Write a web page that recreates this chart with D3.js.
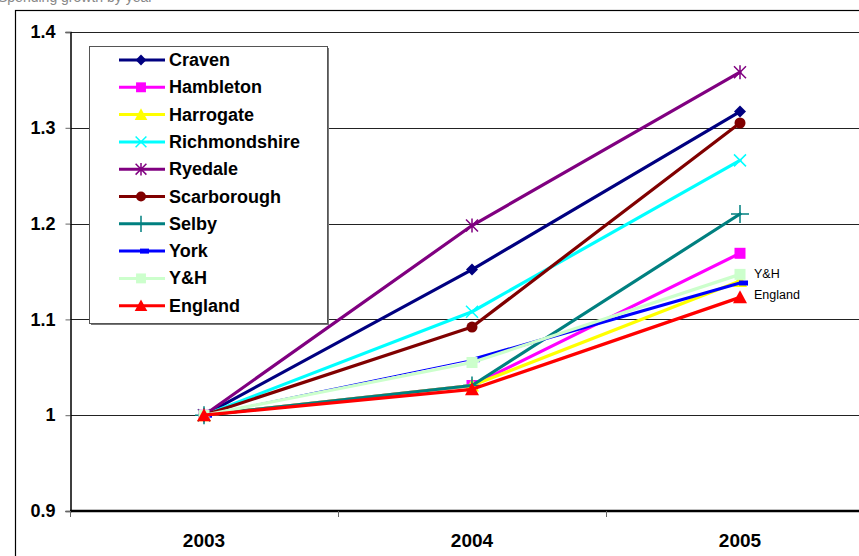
<!DOCTYPE html>
<html>
<head>
<meta charset="utf-8">
<script src="https://cdn.jsdelivr.net/npm/d3@7"></script>
<style>
  body { margin: 0; background: #fff; }
  svg { display: block; font-family: "Liberation Sans", Arial, sans-serif; }
</style>
</head>
<body>
<div id="chart"></div>
<script>
// chart data
const years = ["2003", "2004", "2005"];
const seriesNames = ["Craven", "Hambleton", "Harrogate", "Richmondshire", "Ryedale",
                     "Scarborough", "Selby", "York", "Y&H", "England"];
const craven        = [1, 1.152, 1.317];
const hambleton     = [1, 1.031, 1.169];
const harrogate     = [1, 1.031, 1.140];
const richmondshire = [1, 1.108, 1.266];
const ryedale       = [1, 1.198, 1.358];
const scarborough   = [1, 1.092, 1.305];
const selby         = [1, 1.031, 1.210];
const york          = [1, 1.058, 1.138];
const yh            = [1, 1.055, 1.147];
const england       = [1, 1.027, 1.123];
const yTicks = [0.9, 1, 1.1, 1.2, 1.3, 1.4];
const endLabels = ["Y&H", "England"];

const seriesValues = [craven, hambleton, harrogate, richmondshire, ryedale,
                      scarborough, selby, york, yh, england];
const colors = ["#000080", "#ff00ff", "#ffff00", "#00ffff", "#800080",
                "#800000", "#008080", "#0000ff", "#ccffcc", "#ff0000"];
const markers = ["diamond", "square", "triangle", "x", "star",
                 "circle", "plus", "dash", "square", "triangle"];

const width = 859, height = 556;
const svg = d3.select("#chart").append("svg")
    .attr("width", width)
    .attr("height", height);

// faint title remnant, cut off at the top as in the source image
svg.append("text")
    .attr("x", -2).attr("y", 2)
    .attr("font-size", 14)
    .attr("fill", "#888")
    .text("Spending growth by year");

// outer chart frame
svg.append("rect")
    .attr("x", 15.5).attr("y", 10.5)
    .attr("width", 1000).attr("height", 700)
    .attr("fill", "none")
    .attr("stroke", "#000")
    .attr("stroke-width", 1.2);

const x = d3.scaleBand().domain(years).range([70, 874]);
const y = d3.scaleLinear().domain([0.9, 1.4]).range([511, 32]);
const cx = d => x(d) + x.bandwidth() / 2;

// gridlines
svg.append("g")
    .selectAll("line")
    .data(yTicks.filter(t => t > 0.9))
    .join("line")
    .attr("x1", 70).attr("x2", width)
    .attr("y1", d => Math.round(y(d)) + 0.5)
    .attr("y2", d => Math.round(y(d)) + 0.5)
    .attr("stroke", "#222")
    .attr("stroke-width", 1);

// y axis
const yAxis = svg.append("g")
    .attr("transform", "translate(70.5,0)")
    .call(d3.axisLeft(y).tickValues(yTicks).tickSize(5).tickPadding(10)
        .tickFormat(d => d3.format("")(+d.toFixed(1))));
yAxis.select(".domain").attr("stroke", "#000").attr("stroke-width", 1.5);
yAxis.selectAll(".tick line").attr("stroke", "#666");
yAxis.selectAll("text")
    .attr("font-size", 18).attr("font-weight", "bold")
    .attr("font-family", "Liberation Sans, Arial, sans-serif")
    .attr("fill", "#000");

// x axis (bottom line, ticks at category boundaries)
svg.append("line")
    .attr("x1", 70).attr("x2", width)
    .attr("y1", 511).attr("y2", 511)
    .attr("stroke", "#000").attr("stroke-width", 2.5);
svg.append("g")
    .selectAll("line")
    .data(years)
    .join("line")
    .attr("x1", d => x(d) + 0.5).attr("x2", d => x(d) + 0.5)
    .attr("y1", 511).attr("y2", 517)
    .attr("stroke", "#666");
svg.append("g")
    .selectAll("text")
    .data(years)
    .join("text")
    .attr("x", d => cx(d))
    .attr("y", 547)
    .attr("text-anchor", "middle")
    .attr("font-size", 19).attr("font-weight", "bold")
    .text(d => d);

// marker drawing
function drawMarker(g, type, color, px, py, s) {
    s = s || 1;
    if (type === "diamond") {
        g.append("path").attr("d", `M${px},${py - 6 * s}L${px + 6 * s},${py}L${px},${py + 6 * s}L${px - 6 * s},${py}Z`)
            .attr("fill", color);
    } else if (type === "square") {
        g.append("rect").attr("x", px - 5.5 * s).attr("y", py - 5.5 * s)
            .attr("width", 11 * s).attr("height", 11 * s).attr("fill", color);
    } else if (type === "triangle") {
        g.append("path").attr("d", `M${px},${py - 7 * s}L${px + 7 * s},${py + 6 * s}L${px - 7 * s},${py + 6 * s}Z`)
            .attr("fill", color);
    } else if (type === "x") {
        g.append("path").attr("d", `M${px - 6 * s},${py - 6 * s}L${px + 6 * s},${py + 6 * s}M${px + 6 * s},${py - 6 * s}L${px - 6 * s},${py + 6 * s}`)
            .attr("stroke", color).attr("stroke-width", 1.5);
    } else if (type === "star") {
        g.append("path").attr("d", `M${px - 6 * s},${py - 6 * s}L${px + 6 * s},${py + 6 * s}M${px + 6 * s},${py - 6 * s}L${px - 6 * s},${py + 6 * s}M${px},${py - 7 * s}L${px},${py + 7 * s}`)
            .attr("stroke", color).attr("stroke-width", 1.5);
    } else if (type === "circle") {
        g.append("circle").attr("cx", px).attr("cy", py).attr("r", 5.5 * s).attr("fill", color);
    } else if (type === "plus") {
        g.append("path").attr("d", `M${px - 9 * s},${py}L${px + 9 * s},${py}M${px},${py - 9 * s}L${px},${py + 9 * s}`)
            .attr("stroke", color).attr("stroke-width", 1.5);
    } else if (type === "dash") {
        g.append("rect").attr("x", px - 1).attr("y", py - 2.5)
            .attr("width", 9).attr("height", 5).attr("fill", color);
    }
}

// lines and markers
const linesG = svg.append("g");
seriesNames.forEach((name, i) => {
    const vals = seriesValues[i];
    const g = linesG.append("g");
    for (let k = 0; k < years.length - 1; k++) {
        // York's first segment is drawn thin in the original
        const thin = name === "York" && k === 0;
        g.append("line")
            .attr("x1", cx(years[k])).attr("y1", y(vals[k]))
            .attr("x2", cx(years[k + 1])).attr("y2", y(vals[k + 1]))
            .attr("stroke", colors[i])
            .attr("stroke-width", thin ? 1 : 3.2)
            .attr("stroke-linecap", "round");
    }
    vals.forEach((v, k) => drawMarker(g, markers[i], colors[i], cx(years[k]), y(v)));
});

// end labels
endLabels.forEach(lbl => {
    const i = seriesNames.indexOf(lbl);
    const v = seriesValues[i][2];
    svg.append("text")
        .attr("x", 754)
        .attr("y", lbl === "Y&H" ? y(v) + 4 : y(v) + 2)
        .attr("font-size", 12.5)
        .text(lbl);
});

// legend
const legend = svg.append("g");
legend.append("rect")
    .attr("x", 91).attr("y", 48)
    .attr("width", 238).attr("height", 277)
    .attr("fill", "#777");
legend.append("rect")
    .attr("x", 89.5).attr("y", 46.5)
    .attr("width", 238).attr("height", 277)
    .attr("fill", "#fff").attr("stroke", "#555");
seriesNames.forEach((name, i) => {
    const ly = 60 + i * 27.3;
    legend.append("line")
        .attr("x1", 119).attr("x2", 165)
        .attr("y1", ly).attr("y2", ly)
        .attr("stroke", colors[i]).attr("stroke-width", 3);
    drawMarker(legend, markers[i], colors[i], 141, ly, 0.9);
    legend.append("text")
        .attr("x", 169).attr("y", ly + 6)
        .attr("font-size", 18).attr("font-weight", "bold")
        .text(name);
});
</script>
</body>
</html>
